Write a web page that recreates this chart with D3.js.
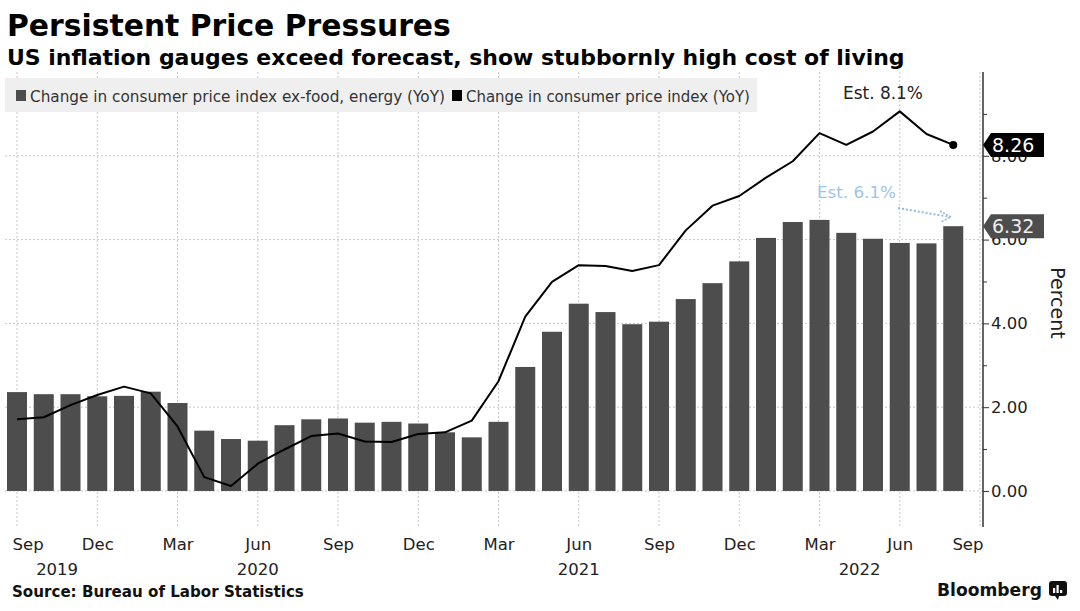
<!DOCTYPE html>
<html><head><meta charset="utf-8">
<script src="https://cdn.jsdelivr.net/npm/d3@7"></script>
<style>body{margin:0;background:#fff}svg{display:block}</style>
</head><body>
<svg id="c" width="1080" height="611"></svg>
<script>
// ---- data ----
const months = ["2019-09","2019-10","2019-11","2019-12","2020-01","2020-02","2020-03","2020-04","2020-05","2020-06","2020-07","2020-08","2020-09","2020-10","2020-11","2020-12","2021-01","2021-02","2021-03","2021-04","2021-05","2021-06","2021-07","2021-08","2021-09","2021-10","2021-11","2021-12","2022-01","2022-02","2022-03","2022-04","2022-05","2022-06","2022-07","2022-08"];
const coreCPI = [2.36,2.31,2.31,2.26,2.27,2.37,2.10,1.44,1.24,1.20,1.57,1.71,1.73,1.63,1.65,1.61,1.40,1.28,1.65,2.96,3.80,4.47,4.27,3.98,4.04,4.58,4.96,5.48,6.04,6.42,6.47,6.16,6.02,5.92,5.91,6.32];
const headlineCPI = [1.71,1.76,2.05,2.29,2.49,2.33,1.54,0.33,0.12,0.65,0.99,1.31,1.37,1.18,1.17,1.36,1.40,1.68,2.62,4.16,4.99,5.39,5.37,5.25,5.39,6.22,6.81,7.04,7.48,7.87,8.54,8.26,8.58,9.06,8.52,8.26];
const xTickIndex = [0,3,6,9,12,15,18,21,24,27,30,33,36];
const xTickLabels = ["Sep","Dec","Mar","Jun","Sep","Dec","Mar","Jun","Sep","Dec","Mar","Jun","Sep"];
const yearPos = [1.5,9,21,31.5];
const yearLabels = ["2019","2020","2021","2022"];
const yTicks = [0,1,2,3,4,5,6,7,8,9];
const legendLabels = ["Change in consumer price index ex-food, energy (YoY)","Change in consumer price index (YoY)"];
const estimates = [{text:"Est. 8.1%"},{text:"Est. 6.1%"}];

// ---- layout ----
const svg = d3.select("#c");
const FONT = "DejaVu Sans, Verdana, sans-serif";
const barColor = "#4d4d4d";
const x = d3.scaleLinear().domain([0,36]).range([17,980]);
const y = d3.scaleLinear().domain([-0.86,10]).range([527,72]);
const axisX = 983;

function fit(sel, w){
  const n = sel.node(); const fs = parseFloat(sel.attr("font-size"));
  const cur = n.getComputedTextLength(); if(cur>0) sel.attr("font-size", (fs*w/cur).toFixed(2));
  return sel;
}

// titles
fit(svg.append("text").attr("x",7).attr("y",35.5).attr("font-family",FONT).attr("font-weight","bold")
  .attr("font-size",30).attr("fill","#000").text("Persistent Price Pressures"), 444);
fit(svg.append("text").attr("x",7).attr("y",65).attr("font-family",FONT).attr("font-weight","bold")
  .attr("font-size",21).attr("fill","#000").text("US inflation gauges exceed forecast, show stubbornly high cost of living"), 898);

// gridlines (vertical)
const g = svg.append("g");
g.selectAll("line.vg").data(xTickIndex).join("line").attr("class","vg")
  .attr("x1",d=>x(d)).attr("x2",d=>x(d)).attr("y1",y(10)).attr("y2",y(-0.86))
  .attr("stroke","#c8c8c8").attr("stroke-width",1).attr("stroke-dasharray","2,2");

// legend background
svg.append("rect").attr("x",5).attr("y",78).attr("width",752).attr("height",34).attr("fill","#efefef");
svg.append("rect").attr("x",16).attr("y",90).attr("width",10).attr("height",11).attr("fill",barColor);
fit(svg.append("text").attr("x",30).attr("y",102).attr("font-family",FONT).attr("font-size",14).attr("fill","#333").text(legendLabels[0]),415);
svg.append("rect").attr("x",452).attr("y",90).attr("width",10).attr("height",11).attr("fill","#000");
fit(svg.append("text").attr("x",466).attr("y",102).attr("font-family",FONT).attr("font-size",14).attr("fill","#333").text(legendLabels[1]),284);

// horizontal gridlines
g.selectAll("line.hg").data([0,2,4,6,8]).join("line").attr("class","hg")
  .attr("x1",5).attr("x2",axisX).attr("y1",d=>y(d)).attr("y2",d=>y(d))
  .attr("stroke","#c8c8c8").attr("stroke-width",1).attr("stroke-dasharray","2,2");

// bars
svg.append("g").selectAll("rect").data(coreCPI).join("rect")
  .attr("x",(d,i)=>x(i)-10).attr("width",20)
  .attr("y",d=>y(d)).attr("height",d=>y(0)-y(d)).attr("fill",barColor);

// line
const line = d3.line().x((d,i)=>x(i)).y(d=>y(d));
svg.append("path").datum(headlineCPI).attr("d",line).attr("fill","none")
  .attr("stroke","#000").attr("stroke-width",2).attr("stroke-linejoin","round");
const last = headlineCPI.length-1;
svg.append("circle").attr("cx",x(last)).attr("cy",y(headlineCPI[last])).attr("r",4).attr("fill","#000");

// y axis (right)
const yAxis = d3.axisRight(y).tickValues(yTicks).tickSize(6).tickPadding(2)
  .tickFormat(d=> d%2===0 ? d3.format(".2f")(d) : "");
const ya = svg.append("g").attr("transform",`translate(${axisX},0)`).call(yAxis);
ya.select(".domain").attr("d",`M0,${y(10)}V${y(-0.86)}`).attr("stroke","#333").attr("stroke-width",1.5);
ya.selectAll(".tick line").attr("stroke","#333").attr("x2",d=>d%2===0?6:4);
ya.selectAll(".tick text").attr("font-family",FONT).attr("font-size",16.5).attr("fill","#222");
svg.append("text").attr("transform",`translate(1051,303) rotate(90)`).attr("text-anchor","middle")
  .attr("font-family",FONT).attr("font-size",19).attr("fill","#222").text("Percent");

// x axis
const xAxis = d3.axisBottom(x).tickValues(xTickIndex).tickSize(0).tickPadding(0)
  .tickFormat((d,i)=>xTickLabels[i]);
const xa = svg.append("g").attr("transform","translate(0,538)").call(xAxis);
xa.select(".domain").remove();
xa.selectAll(".tick text").attr("font-family",FONT).attr("font-size",16.5).attr("fill","#222").attr("dy","0.71em").attr("y",0);
xa.selectAll(".tick").filter((d,i)=>i===0).select("text").attr("text-anchor","start").attr("x",12-x(0));
xa.selectAll(".tick").filter((d,i)=>i===xTickIndex.length-1).select("text").attr("text-anchor","end").attr("x",axisX-x(36));
svg.append("g").selectAll("text").data(yearLabels).join("text")
  .attr("x",(d,i)=>x(yearPos[i])).attr("y",575).attr("text-anchor","middle")
  .attr("font-family",FONT).attr("font-size",16.5).attr("fill","#222").text(d=>d);

// value labels on axis
function valueTag(v, fill, tc){
  const cy = y(v);
  svg.append("path").attr("d",`M${axisX},${cy} L${axisX+8},${cy-12} H1044 V${cy+12} H${axisX+8} Z`).attr("fill",fill);
  svg.append("text").attr("x",992).attr("y",cy+7).attr("font-family",FONT).attr("font-size",19).attr("fill",tc).text(d3.format(".2f")(v));
}
valueTag(headlineCPI[last],"#000","#fff");
valueTag(coreCPI[last],barColor,"#eee");

// estimate annotations
fit(svg.append("text").attr("x",843).attr("y",99).attr("font-family",FONT).attr("font-size",18).attr("fill","#222").text(estimates[0].text),80);
fit(svg.append("text").attr("x",817).attr("y",198).attr("font-family",FONT).attr("font-size",18).attr("fill","#9cc5ea").text(estimates[1].text),79);
svg.append("line").attr("x1",898).attr("y1",208).attr("x2",950).attr("y2",217)
  .attr("stroke","#8fbde8").attr("stroke-width",2).attr("stroke-dasharray","2,2");
svg.append("path").attr("d","M940,211 L951,217 L941,222").attr("fill","none").attr("stroke","#8fbde8").attr("stroke-width",1.6).attr("stroke-dasharray","2,1.5");

// footer
fit(svg.append("text").attr("x",12).attr("y",597).attr("font-family",FONT).attr("font-weight","bold").attr("font-size",16).attr("fill","#111").text("Source: Bureau of Labor Statistics"),292);
fit(svg.append("text").attr("x",937).attr("y",595.5).attr("font-family",FONT).attr("font-weight","bold").attr("font-size",18).attr("fill","#111").text("Bloomberg"),105);
const logo = svg.append("g").attr("transform","translate(1049,581)");
logo.append("rect").attr("width",18).attr("height",15).attr("rx",3).attr("fill","#111");
logo.append("path").attr("d","M6,15 L9,19 L10,15 Z").attr("fill","#111");
[[4,7],[7.5,4],[11,9]].forEach(([bx,by])=>logo.append("rect").attr("x",bx).attr("y",by).attr("width",2.2).attr("height",12-by).attr("fill","#fff"));
</script>
</body></html>
